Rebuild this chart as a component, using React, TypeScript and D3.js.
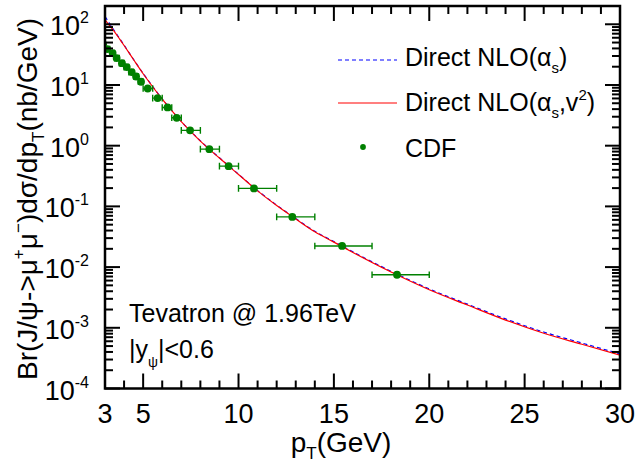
import React from 'react';
import * as d3 from 'd3';

// ---- data ----
const curvePt = [3, 3.25, 3.5, 3.75, 4, 4.5, 5, 5.5, 6, 6.5, 7, 7.5, 8, 9, 10, 11, 12, 13, 14, 15, 16, 18, 20, 22, 24, 26, 28, 30];
const nloAlphaS = [134, 102, 77.6, 59.3, 45.3, 26.3, 15.5, 9.44, 5.89, 3.8, 2.51, 1.72, 1.2, 0.631, 0.339, 0.182, 0.105, 0.0631, 0.0389, 0.0263, 0.0178, 0.00851, 0.00437, 0.00245, 0.0014, 0.000851, 0.000562, 0.000372];
const nloAlphaSV2 = [119, 94.4, 75.0, 58.2, 44.7, 26.0, 15.3, 9.35, 5.83, 3.77, 2.49, 1.7, 1.19, 0.625, 0.335, 0.18, 0.103, 0.0621, 0.0382, 0.0258, 0.0174, 0.00828, 0.00423, 0.00237, 0.00134, 0.000813, 0.000535, 0.000353];

const cdfPt = [2.9, 3.12, 3.4, 3.61, 3.89, 4.14, 4.4, 4.63, 4.89, 5.24, 5.76, 6.28, 6.76, 7.46, 8.47, 9.48, 10.81, 12.82, 15.43, 18.31];
const cdfLo = [2.75, 3, 3.25, 3.5, 3.75, 4, 4.25, 4.5, 4.75, 5, 5.5, 6, 6.5, 7, 8, 9, 10, 12, 14, 17];
const cdfHi = [3, 3.25, 3.5, 3.75, 4, 4.25, 4.5, 4.75, 5, 5.5, 6, 6.5, 7, 8, 9, 10, 12, 14, 17, 20];
const cdfVal = [47, 39.0, 33.5, 27.7, 22.9, 19.7, 16.3, 13.8, 11.3, 8.75, 6.08, 4.26, 2.88, 1.79, 0.877, 0.46, 0.198, 0.0671, 0.0223, 0.00748];

const xTickLabels = [3, 5, 10, 15, 20, 25, 30];
const yDecades = [-4, -3, -2, -1, 0, 1, 2];

const W = 637, H = 467;
const L = 105, R = 620, T = 6, B = 388.5;
const FONT = "'Liberation Sans', Arial, Helvetica, sans-serif";

export default function App() {
  const x = d3.scaleLinear().domain([3, 30]).range([L, R]);
  const y = d3.scaleLog().domain([1e-4, 200]).range([B, T]);

  const mkLine = (vals: number[]) =>
    d3.line<number>()
      .x((_, i) => x(curvePt[i]))
      .y((d) => y(d))
      .curve(d3.curveMonotoneX)(vals) || '';

  const xMinor: number[] = d3.range(4, 30);
  const yMinor: number[] = [];
  yDecades.forEach((d) => {
    for (let k = 2; k <= 9; k++) {
      const v = k * Math.pow(10, d);
      if (v < 200) yMinor.push(v);
    }
  });

  const major = 15, minor = 8;
  const tickStroke = 2;
  const green = '#008000';

  return (
    <svg width={W} height={H} style={{ position: 'absolute', left: 0, top: 0, background: '#fff' }} fontFamily={FONT}>
      <defs>
        <clipPath id="plotclip">
          <rect x={L} y={T} width={R - L} height={B - T} />
        </clipPath>
      </defs>
      <rect x={0} y={0} width={W} height={H} fill="#fff" />

      {/* curves */}
      <g clipPath="url(#plotclip)">
        <path d={mkLine(nloAlphaS)} fill="none" stroke="#0000ff" strokeWidth={1.2} strokeDasharray="4,3" />
        <path d={mkLine(nloAlphaSV2)} fill="none" stroke="#ff0000" strokeWidth={1.2} />
        {/* CDF data */}
        {cdfPt.map((p, i) => {
          const cy = y(cdfVal[i]);
          const x0 = x(cdfLo[i]), x1 = x(cdfHi[i]);
          return (
            <g key={i}>
              <line x1={x0} x2={x1} y1={cy} y2={cy} stroke={green} strokeWidth={1.4} />
              <line x1={x0} x2={x0} y1={cy - 3.3} y2={cy + 3.3} stroke={green} strokeWidth={1.4} />
              <line x1={x1} x2={x1} y1={cy - 3.3} y2={cy + 3.3} stroke={green} strokeWidth={1.4} />
              <circle cx={x(p)} cy={cy} r={3.9} fill={green} />
            </g>
          );
        })}
      </g>

      {/* ticks */}
      <g stroke="#000" strokeWidth={tickStroke}>
        {xMinor.map((v) => {
          const len = v % 5 === 0 ? major : minor;
          const px = x(v);
          return (
            <g key={'xt' + v}>
              <line x1={px} x2={px} y1={B} y2={B - len} />
              <line x1={px} x2={px} y1={T} y2={T + len} />
            </g>
          );
        })}
        {yDecades.map((d) => {
          const py = y(Math.pow(10, d));
          return (
            <g key={'yM' + d}>
              <line x1={L} x2={L + major} y1={py} y2={py} />
              <line x1={R} x2={R - major} y1={py} y2={py} />
            </g>
          );
        })}
        {yMinor.map((v, i) => {
          const py = y(v);
          return (
            <g key={'ym' + i}>
              <line x1={L} x2={L + minor} y1={py} y2={py} />
              <line x1={R} x2={R - minor} y1={py} y2={py} />
            </g>
          );
        })}
      </g>

      {/* frame */}
      <rect x={L} y={T} width={R - L} height={B - T} fill="none" stroke="#000" strokeWidth={2.5} />

      {/* x tick labels */}
      {xTickLabels.map((v) => (
        <text key={'xl' + v} x={x(v)} y={423} textAnchor="middle" fontSize={27} fill="#000">{v}</text>
      ))}
      {/* y tick labels */}
      {yDecades.map((d) => (
        <text key={'yl' + d} x={89} y={y(Math.pow(10, d)) + 11} textAnchor="end" fontSize={27} fill="#000">
          10<tspan fontSize={16} dy={-12}>{String(d)}</tspan>
        </text>
      ))}

      {/* axis titles */}
      <text x={341} y={452} textAnchor="middle" fontSize={28} fill="#000">
        p<tspan fontSize={17} dy={7}>T</tspan><tspan dy={-7}>(GeV)</tspan>
      </text>
      <text transform={`translate(37,199) rotate(-90)`} textAnchor="middle" fontSize={28} fill="#000">
        Br(J/ψ-&gt;μ<tspan fontSize={17} dy={-13}>+</tspan><tspan dy={13}>μ</tspan><tspan fontSize={17} dy={-13}>−</tspan><tspan dy={13}>)dσ/dp</tspan><tspan fontSize={17} dy={7}>T</tspan><tspan dy={-7}>(nb/GeV)</tspan>
      </text>

      {/* legend */}
      <line x1={338} x2={397} y1={60} y2={60} stroke="#0000ff" strokeWidth={1.2} strokeDasharray="4,3" />
      <text x={405} y={66} fontSize={25} fill="#000">
        Direct NLO(α<tspan fontSize={15} dy={7}>s</tspan><tspan dy={-7}>)</tspan>
      </text>
      <line x1={338} x2={397} y1={103} y2={103} stroke="#ff0000" strokeWidth={1.2} />
      <text x={405} y={111} fontSize={25} fill="#000">
        Direct NLO(α<tspan fontSize={15} dy={7}>s</tspan><tspan dy={-7}>,v</tspan><tspan fontSize={15} dy={-11}>2</tspan><tspan dy={11}>)</tspan>
      </text>
      <circle cx={363} cy={147} r={2.9} fill={green} />
      <text x={405} y={157} fontSize={25} fill="#000">CDF</text>

      {/* annotation */}
      <text x={129} y={322} fontSize={25} fill="#000">Tevatron @ 1.96TeV</text>
      <text x={129} y={358} fontSize={25} fill="#000">
        |y<tspan fontSize={14} dy={9}>ψ</tspan><tspan dy={-9}>|&lt;0.6</tspan>
      </text>
    </svg>
  );
}
